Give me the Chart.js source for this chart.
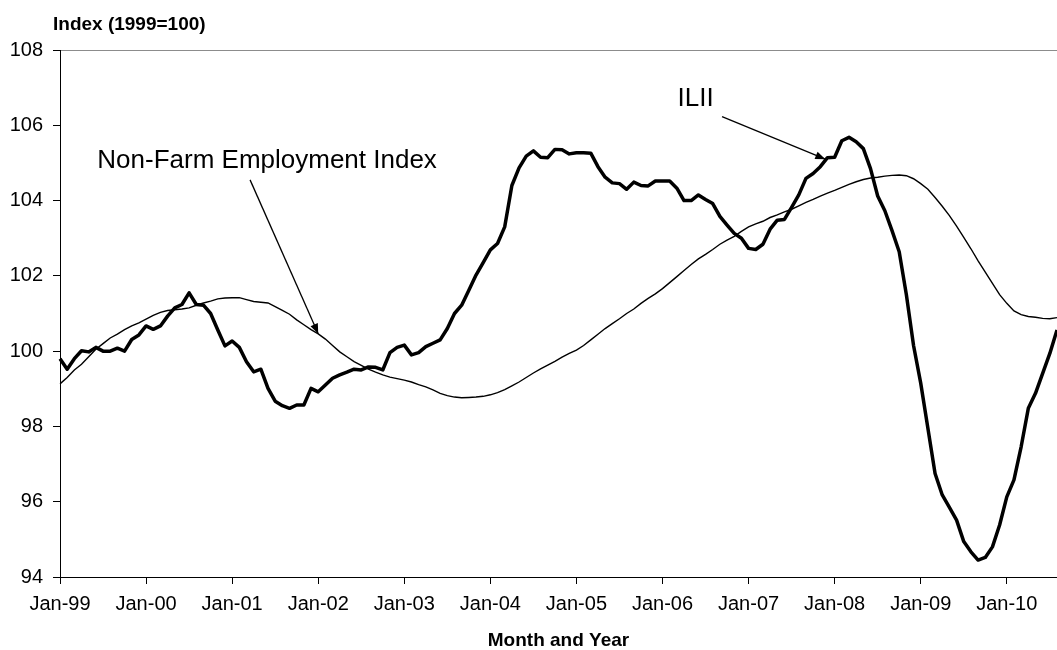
<!DOCTYPE html>
<html>
<head>
<meta charset="utf-8">
<script src="https://cdn.jsdelivr.net/npm/chart.js@4.4.1/dist/chart.umd.min.js"></script>
<style>
  html, body { margin: 0; padding: 0; background: #fff; }
  #wrap { width: 1057px; height: 650px; position: relative; }
</style>
</head>
<body>
<div id="wrap"><canvas id="chart"></canvas></div>
<script>
// ─── data ───
const MONTHS = ['Jan','Feb','Mar','Apr','May','Jun','Jul','Aug','Sep','Oct','Nov','Dec'];
const START_YEAR = 1999;
const N_MONTHS = 140; // Jan-99 .. Aug-10

const monthLabels = [];
for (let i = 0; i < N_MONTHS; i++) {
  const yr = START_YEAR + Math.floor(i / 12);
  monthLabels.push(MONTHS[i % 12] + '-' + String(yr % 100).padStart(2, '0'));
}

// ILII (thick line)
const iliiValues = [
  99.8, 99.52, 99.8, 100.01, 99.98, 100.1, 100.0, 100.0, 100.08, 100.0, 100.31, 100.43,
  100.67, 100.58, 100.67, 100.93, 101.15, 101.24, 101.55, 101.24, 101.22, 101.0, 100.56, 100.14,
  100.27, 100.1, 99.72, 99.45, 99.52, 99.01, 98.67, 98.55, 98.48, 98.57, 98.57, 99.01,
  98.92, 99.1, 99.28, 99.37, 99.44, 99.52, 99.5, 99.58, 99.57, 99.5, 99.96, 100.1,
  100.16, 99.9, 99.96, 100.12, 100.21, 100.3, 100.6, 101.0, 101.22, 101.62, 102.02, 102.35,
  102.69, 102.86, 103.3, 104.4, 104.87, 105.18, 105.32, 105.15, 105.14, 105.36, 105.35, 105.24,
  105.27, 105.27, 105.26, 104.9, 104.62, 104.47, 104.45, 104.3, 104.49, 104.4, 104.39, 104.52,
  104.52, 104.52, 104.33, 104.0, 104.0, 104.15, 104.03, 103.92, 103.58, 103.35, 103.13, 103.0,
  102.73, 102.7, 102.84, 103.24, 103.48, 103.5, 103.82, 104.15, 104.59, 104.72, 104.9, 105.14,
  105.15, 105.59, 105.68, 105.56, 105.38, 104.85, 104.12, 103.73, 103.2, 102.64, 101.5, 100.15,
  99.15, 97.95, 96.75, 96.18, 95.85, 95.51, 94.94, 94.67, 94.45, 94.52, 94.8, 95.38,
  96.13, 96.58, 97.46, 98.48, 98.88, 99.41, 99.94, 100.56
];

// Non-Farm Employment Index (thin line)
const nfeValues = [
  99.13, 99.3, 99.5, 99.65, 99.85, 100.05, 100.2, 100.35, 100.45, 100.57, 100.67, 100.75,
  100.85, 100.95, 101.03, 101.08, 101.1, 101.12, 101.15, 101.22, 101.28, 101.33, 101.39, 101.41,
  101.42, 101.42, 101.37, 101.32, 101.3, 101.28, 101.18, 101.08, 100.98, 100.83, 100.7, 100.57,
  100.46, 100.32, 100.15, 99.98, 99.85, 99.72, 99.62, 99.52, 99.44, 99.37, 99.31, 99.27,
  99.23, 99.18, 99.11, 99.05, 98.97, 98.88, 98.82, 98.78, 98.76, 98.77, 98.78, 98.8,
  98.84, 98.9, 98.98, 99.08, 99.18, 99.3, 99.42, 99.53, 99.63, 99.73, 99.84, 99.94,
  100.03, 100.15, 100.3, 100.45, 100.6, 100.73, 100.86, 101.0, 101.12, 101.27, 101.4, 101.52,
  101.66, 101.82, 101.98, 102.14, 102.3, 102.45, 102.57, 102.7, 102.84, 102.95, 103.05, 103.18,
  103.3, 103.38, 103.45, 103.55, 103.62, 103.7, 103.77, 103.86, 103.95, 104.03, 104.12, 104.2,
  104.27, 104.35, 104.43, 104.5, 104.56, 104.6, 104.62, 104.65, 104.67, 104.68, 104.66, 104.58,
  104.45, 104.3, 104.08, 103.85, 103.6, 103.32, 103.02, 102.72, 102.4, 102.1, 101.8, 101.5,
  101.27, 101.07, 100.97, 100.92, 100.9, 100.87, 100.86, 100.89
];

const yMin = 94, yMax = 108, yStep = 2;

// callouts, in (month index, value) units
const callouts = [
  { text: 'Non-Farm Employment Index', at: [5.2, 104.87], from: [26.5, 104.55], to: [36, 100.46] },
  { text: 'ILII', at: [86.1, 106.51], from: [92.3, 106.23], to: [106.7, 105.1] }
];

const FONT = "'Liberation Sans', Arial, sans-serif";

// ─── plugin: y title + arrows ───
const decorPlugin = {
  id: 'decor',
  afterDraw(chart) {
    const { ctx, chartArea, scales } = chart;
    const xs = scales.x, ys = scales.y;
    ctx.save();
    ctx.fillStyle = '#000';
    ctx.textBaseline = 'alphabetic';
    ctx.textAlign = 'left';
    ctx.font = 'bold 19px ' + FONT;
    ctx.fillText('Index (1999=100)', chartArea.left - 7, chartArea.top - 20);

    ctx.font = '26px ' + FONT;
    ctx.strokeStyle = '#000';
    ctx.lineWidth = 1.3;
    callouts.forEach(c => {
      ctx.fillText(c.text, xs.getPixelForValue(c.at[0]), ys.getPixelForValue(c.at[1]));
      const x1 = xs.getPixelForValue(c.from[0]), y1 = ys.getPixelForValue(c.from[1]);
      const x2 = xs.getPixelForValue(c.to[0]), y2 = ys.getPixelForValue(c.to[1]);
      ctx.beginPath(); ctx.moveTo(x1, y1); ctx.lineTo(x2, y2); ctx.stroke();
      const a = Math.atan2(y2 - y1, x2 - x1), len = 10, hw = 4;
      ctx.beginPath();
      ctx.moveTo(x2, y2);
      ctx.lineTo(x2 - len * Math.cos(a) + hw * Math.sin(a), y2 - len * Math.sin(a) - hw * Math.cos(a));
      ctx.lineTo(x2 - len * Math.cos(a) - hw * Math.sin(a), y2 - len * Math.sin(a) + hw * Math.cos(a));
      ctx.closePath(); ctx.fill();
    });
    ctx.restore();
  }
};

new Chart(document.getElementById('chart'), {
  type: 'line',
  data: {
    labels: monthLabels,
    datasets: [
      { label: 'Non-Farm Employment Index', data: nfeValues, borderColor: '#000', borderWidth: 1.4,
        pointRadius: 0, tension: 0, fill: false },
      { label: 'ILII', data: iliiValues, borderColor: '#000', borderWidth: 3.5,
        pointRadius: 0, tension: 0, fill: false, borderJoinStyle: 'round' }
    ]
  },
  options: {
    responsive: true, maintainAspectRatio: false, animation: false,
    layout: { padding: { top: 50, right: 0, bottom: 0, left: 0 } },
    plugins: { legend: { display: false }, tooltip: { enabled: false } },
    scales: {
      x: {
        type: 'category',
        offset: false,
        afterFit: s => { s.height = 73; s.paddingRight = 0; },
        border: { display: true, color: '#000', width: 1 },
        grid: {
          drawOnChartArea: false, drawTicks: true, tickLength: 7,
          tickColor: ctx => ctx.index % 12 === 0 ? '#000' : 'rgba(0,0,0,0)'
        },
        ticks: {
          autoSkip: false, maxRotation: 0, minRotation: 0, padding: 8,
          color: '#000', font: { family: FONT, size: 20 },
          callback: (v, i) => i % 12 === 0 ? monthLabels[i] : ''
        },
        title: {
          display: true, text: 'Month and Year', color: '#000',
          font: { family: FONT, size: 19, weight: 'bold' }, padding: { top: 0, bottom: -2 }
        }
      },
      y: {
        min: yMin, max: yMax,
        afterFit: s => { s.width = 60; },
        border: { display: true, color: '#000', width: 1 },
        grid: {
          drawOnChartArea: true, tickLength: 7, tickColor: '#000',
          color: ctx => ctx.tick && ctx.tick.value === yMax ? '#8c8c8c' : 'rgba(0,0,0,0)'
        },
        ticks: { stepSize: yStep, padding: 10, color: '#000', font: { family: FONT, size: 20 } }
      }
    }
  },
  plugins: [decorPlugin]
});
</script>
</body>
</html>
